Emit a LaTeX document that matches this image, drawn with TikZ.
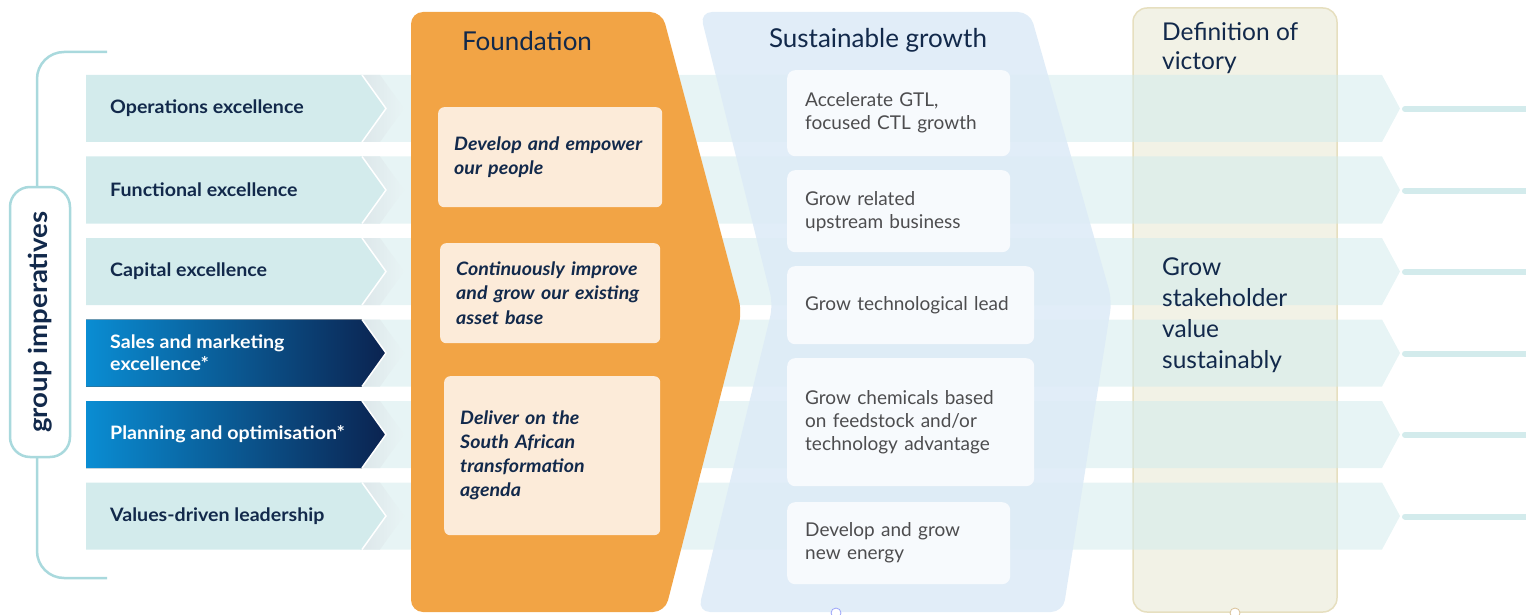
\documentclass[tikz,border=0pt]{standalone}
\usepackage{fontspec}
\setmainfont{Lato}
\newfontfamily\widefont{Lato}[FakeStretch=1.06]
\usetikzlibrary{calc}
\definecolor{navy}{HTML}{12294B}
\definecolor{chev}{HTML}{D3EBEC}
\definecolor{bandc}{HTML}{D3EBEC}
\definecolor{bandw}{HTML}{E8F4F5}
\definecolor{shadowc}{HTML}{DDE7EA}
\definecolor{orangeA}{HTML}{F2A445}
\definecolor{cream}{HTML}{FCEBD9}
\definecolor{susbg}{HTML}{DEEBF7}
\definecolor{susbox}{HTML}{F7FAFD}
\definecolor{defbg}{HTML}{F2F2E6}
\definecolor{defline}{HTML}{E6DFBF}
\definecolor{bracketc}{HTML}{A9D9DD}
\definecolor{grayt}{HTML}{4D4D4F}
\definecolor{blueL}{HTML}{0A8DD3}
\definecolor{blueD}{HTML}{0B2350}
\tikzset{
  rowlabel/.style={anchor=west, text=navy, font=\widefont\fontsize{18.5}{22}\selectfont\bfseries, align=left, inner sep=0pt},
  fbox/.style={anchor=north west, fill=cream, rounded corners=6, text=navy, font=\widefont\fontsize{18.5}{24}\selectfont\bfseries\itshape, align=left, inner xsep=16pt, inner ysep=0pt},
  sbox/.style={anchor=north west, fill=susbox, rounded corners=8, text=grayt, font=\fontsize{19}{23}\selectfont, align=left, inner xsep=18pt, inner ysep=0pt},
  bracketline/.style={draw=bracketc, line width=2.5pt},
  title/.style={text=navy, font=\fontsize{26}{28}\selectfont, inner sep=0pt},
}
\begin{document}
\begin{tikzpicture}[x=1pt,y=-1pt]
\useasboundingbox (0,0) rectangle (1526,615);
% definition box (under the bands)
\draw[fill=defbg, draw=defline, line width=1.5pt, rounded corners=14] (1133,8) rectangle (1337,612);
% bands
\foreach \t/\n in {75/1,156.5/2,238/3,319.5/4,401/5,482.5/6}{
  \fill[bandc, fill opacity=0.55] (360,\t) -- (1382,\t) -- (1400,\t+33.5) -- (1382,\t+67) -- (360,\t+67) -- cycle;
  \coordinate (ls\n) at (1405,\t+34);
  \coordinate (le\n) at (1526,\t+34);
  \draw[bandc, line width=6pt, line cap=round] (ls\n) -- (le\n);
  % soft shadow right of the left chevron
  \shade[left color=shadowc, right color=bandw] (362,\t) -- (380,\t) -- (404,\t+33.5) -- (380,\t+67) -- (362,\t+67) -- (386,\t+33.5) -- cycle;
}
% foundation shape
\fill[orangeA, rounded corners=12] (411,12) -- (662,12) -- (742,312) -- (665,612) -- (411,612) -- cycle;
\node[title] (ftitle) at (527,41) {Foundation};
% sustainable growth shape
\fill[susbg, fill opacity=0.9, rounded corners=12] (700,12) -- (1030,12) -- (1112,300) -- (1063,612) -- (698,612) -- (773,305) -- cycle;
\node[title] (stitle) at (878,40) {Sustainable growth};
% foundation boxes
\node[fbox, minimum width=224pt, minimum height=100pt, text width=192pt] (f1) at (438,107) {Develop and empower\\our people};
\node[fbox, minimum width=220pt, minimum height=100pt, text width=188pt] (f2) at (440,243) {Continuously improve\\and grow our existing\\asset base};
\node[fbox, minimum width=216pt, minimum height=159pt, text width=184pt] (f3) at (444,376) {Deliver on the\\South African\\transformation\\agenda};
% sustainable boxes
\node[sbox, minimum width=223pt, minimum height=86pt, text width=187pt] (s1) at (787,70) {Accelerate GTL,\\focused CTL growth};
\node[sbox, minimum width=223pt, minimum height=82pt, text width=187pt] (s2) at (787,170) {Grow related\\upstream business};
\node[sbox, minimum width=247pt, minimum height=78pt, text width=211pt] (s3) at (787,266) {Grow technological lead};
\node[sbox, minimum width=247pt, minimum height=128pt, text width=211pt, inner xsep=13pt] (s4) at (787,358) {Grow chemicals based\\on feedstock and/or\\technology advantage};
\node[sbox, minimum width=223pt, minimum height=82pt, text width=187pt] (s5) at (787,502) {Develop and grow\\new energy};
% definition texts
\node[anchor=north west, text=navy, font=\fontsize{24.5}{29}\selectfont, align=left, inner sep=0pt] (d1) at (1162,22) {Definition of\\victory};
\node[anchor=north west, text=navy, font=\fontsize{24.5}{31}\selectfont, align=left, inner sep=0pt] (d2) at (1162,258) {Grow\\stakeholder\\value\\sustainably};
% left chevrons
\foreach \t/\n in {75/1,156.5/2,238/3,482.5/6}{
  \fill[chev] (86,\t) -- (362,\t) -- (386,\t+33.5) -- (362,\t+67) -- (86,\t+67) -- cycle;
  \draw[white, line width=1.5pt] (362,\t) -- (386,\t+33.5) -- (362,\t+67);
}
\foreach \t/\n in {319.5/4,401/5}{
  \fill[left color=blueL, right color=blueD] (86,\t) -- (362,\t) -- (386,\t+33.5) -- (362,\t+67) -- (86,\t+67) -- cycle;
  \draw[white, line width=1.5pt] (362,\t) -- (386,\t+33.5) -- (362,\t+67);
}
\node[rowlabel] (r1) at (110,108.5) {Operations excellence};
\node[rowlabel] (r2) at (110,190) {Functional excellence};
\node[rowlabel] (r3) at (110,271.5) {Capital excellence};
\node[rowlabel, text=white] (r4) at (110,353) {Sales and marketing\\excellence*};
\node[rowlabel, text=white] (r5) at (110,434.5) {Planning and optimisation*};
\node[rowlabel] (r6) at (110,516) {Values-driven leadership};
% bracket
\coordinate (bt) at (107,52);
\coordinate (bb) at (107,578);
\draw[bracketline, rounded corners=27] (bt) -- (37,52) -- (37,190);
\draw[bracketline, rounded corners=27] (37,450) -- (37,578) -- (bb);
\draw[bracketline, fill=white, rounded corners=20] (10,187) rectangle (70,457);
\node[rotate=90, text=navy, font=\widefont\fontsize{26}{28}\selectfont\bfseries, inner sep=0pt] (gi) at (40,322) {group imperatives};
% small circles
\draw[fill=white, draw=susbg!70!blue, line width=0.8pt] (836,613) circle (5);
\draw[fill=white, draw=defline!70!brown, line width=0.8pt] (1235,613) circle (5);
\end{tikzpicture}
\end{document}
